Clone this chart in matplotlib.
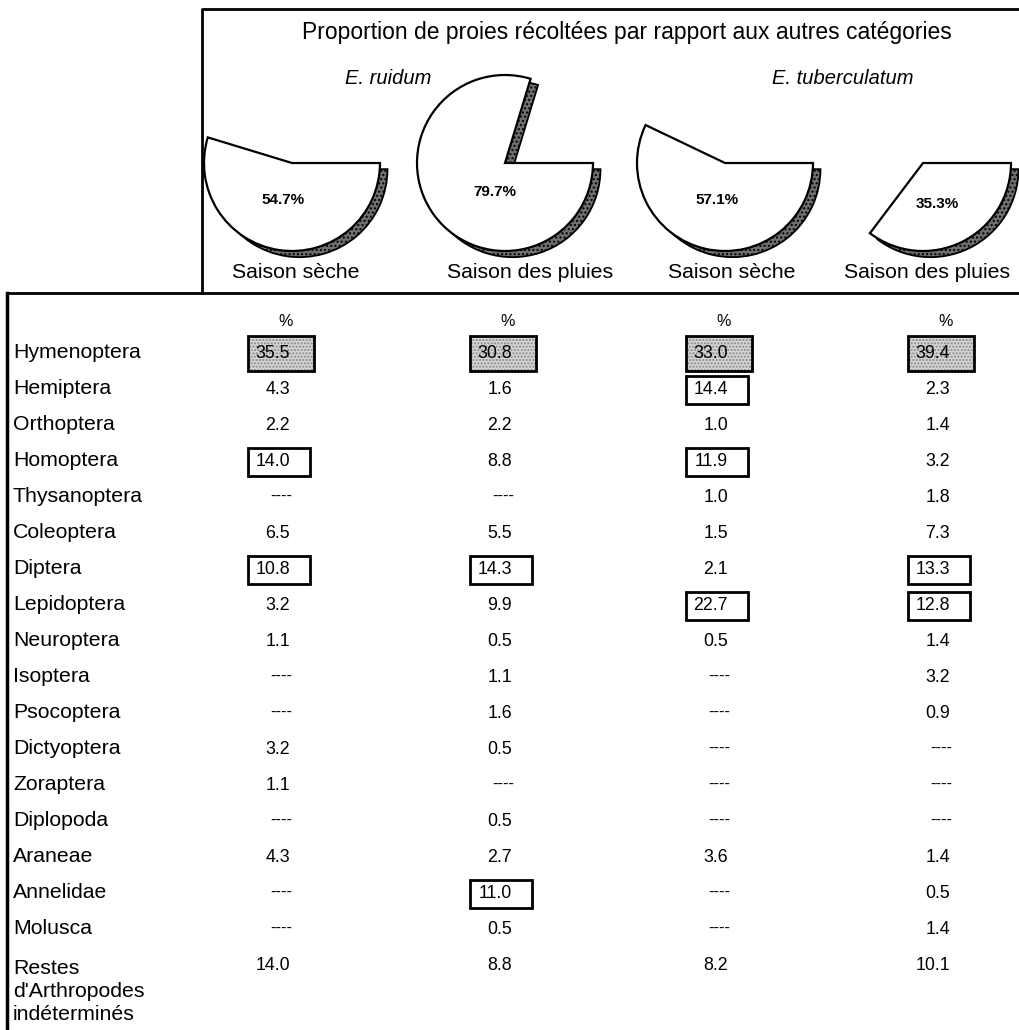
import numpy as np
import matplotlib.pyplot as plt
from matplotlib.patches import Rectangle

plt.rcParams['font.family'] = ['Liberation Sans', 'DejaVu Sans']

# --- donnees ---
titre = "Proportion de proies récoltées par rapport aux autres catégories"
especes = ["E. ruidum", "E. tuberculatum"]
saisons = ["Saison sèche", "Saison des pluies", "Saison sèche", "Saison des pluies"]
proportions = [54.7, 79.7, 57.1, 35.3]

categories = ["Hymenoptera", "Hemiptera", "Orthoptera", "Homoptera", "Thysanoptera",
              "Coleoptera", "Diptera", "Lepidoptera", "Neuroptera", "Isoptera",
              "Psocoptera", "Dictyoptera", "Zoraptera", "Diplopoda", "Araneae",
              "Annelidae", "Molusca", "Restes\nd'Arthropodes\nindéterminés"]
nan = np.nan
er_seche = [35.5, 4.3, 2.2, 14.0, nan, 6.5, 10.8, 3.2, 1.1, nan, nan, 3.2, 1.1, nan, 4.3, nan, nan, 14.0]
er_pluies = [30.8, 1.6, 2.2, 8.8, nan, 5.5, 14.3, 9.9, 0.5, 1.1, 1.6, 0.5, nan, 0.5, 2.7, 11.0, 0.5, 8.8]
et_seche = [33.0, 14.4, 1.0, 11.9, 1.0, 1.5, 2.1, 22.7, 0.5, nan, nan, nan, nan, nan, 3.6, nan, nan, 8.2]
et_pluies = [39.4, 2.3, 1.4, 3.2, 1.8, 7.3, 13.3, 12.8, 1.4, 3.2, 0.9, nan, nan, nan, 1.4, 0.5, 1.4, 10.1]
colonnes = [er_seche, er_pluies, et_seche, et_pluies]

# cellules encadrees (ligne, colonne); la ligne 0 est grisee
encadre = [(1, 2), (3, 0), (3, 2), (6, 0), (6, 1), (6, 3), (7, 2), (7, 3), (15, 1)]
grise = 0

# --- mise en page (pixels) ---
W, H = 1019, 1030
fig = plt.figure(figsize=(W / 100, H / 100), dpi=100)
bg = fig.add_axes([0, 0, 1, 1])
bg.set_xlim(0, W)
bg.set_ylim(H, 0)
bg.axis('off')

# cadres
bg.plot([202, 202, W], [293, 9, 9], color='black', lw=2)
bg.plot([7, 7], [H, 293], color='black', lw=2.5)
bg.plot([7, W], [293, 293], color='black', lw=2)

bg.text(627, 32, titre, ha='center', va='center', fontsize=16.5)
for esp, x in zip(especes, [388, 843]):
    bg.text(x, 78, esp, ha='center', va='center', fontsize=14.5, style='italic')

# camemberts
pie_cx = [292, 505, 725, 923]
pie_cy = 163
R = 88
half = 120
pct_pos = [(-0.1, -0.42), (-0.12, -0.33), (-0.09, -0.42), (0.16, -0.47)]
saison_x = [296, 530, 732, 927]
for v, cx, (lx, ly) in zip(proportions, pie_cx, pct_pos):
    ax = fig.add_axes([(cx - half) / W, (H - pie_cy - half) / H, 2 * half / W, 2 * half / H])
    ombre, _ = ax.pie([v, 100 - v], startangle=0, counterclock=False, center=(0.085, -0.07),
                      colors=['#707070', 'none'],
                      wedgeprops=dict(edgecolor='black', linewidth=1.3, hatch='....'))
    ombre[1].set_visible(False)
    parts, _ = ax.pie([v, 100 - v], startangle=0, counterclock=False,
                      colors=['white', 'none'],
                      wedgeprops=dict(edgecolor='black', linewidth=1.6))
    parts[1].set_visible(False)
    ax.set_xlim(-half / R, half / R)
    ax.set_ylim(-half / R, half / R)
    ax.axis('off')
    ax.text(lx, ly, f"{v}%", ha='center', va='center', fontsize=11, fontweight='bold')

for s, x in zip(saisons, saison_x):
    bg.text(x, 273, s, ha='center', va='center', fontsize=15.3)

# tableau
col_droite = [290, 512, 728, 950]
y0, pas = 353, 36
for x in col_droite:
    bg.text(x + 3, 322, "%", ha='right', va='center', fontsize=11.5)

for i, cat in enumerate(categories):
    y = y0 + pas * i
    if "\n" in cat:
        bg.text(13, y - 6, cat, ha='left', va='top', fontsize=15.3, linespacing=1.25)
    else:
        bg.text(13, y, cat, ha='left', va='center', fontsize=15.3)
    for j, col in enumerate(colonnes):
        v = col[i]
        x = col_droite[j]
        if np.isnan(v):
            bg.text(x + 2, y - 1, "----", ha='right', va='center', fontsize=12)
        else:
            bg.text(x, y, f"{v:.1f}", ha='right', va='center', fontsize=12.8)

for j, x in enumerate(col_droite):
    y = y0 + pas * grise
    bg.add_patch(Rectangle((x - 42, y - 17), 66, 35, facecolor='#d4d4d4', edgecolor='#8a8a8a',
                           hatch='.....', lw=0, zorder=0))
    bg.add_patch(Rectangle((x - 42, y - 17), 66, 35, fill=False, edgecolor='black', lw=2))

for i, j in encadre:
    y = y0 + pas * i
    x = col_droite[j]
    bg.add_patch(Rectangle((x - 42, y - 13), 62, 28, fill=False, edgecolor='black', lw=2))

fig.savefig("out.png", dpi=100)
